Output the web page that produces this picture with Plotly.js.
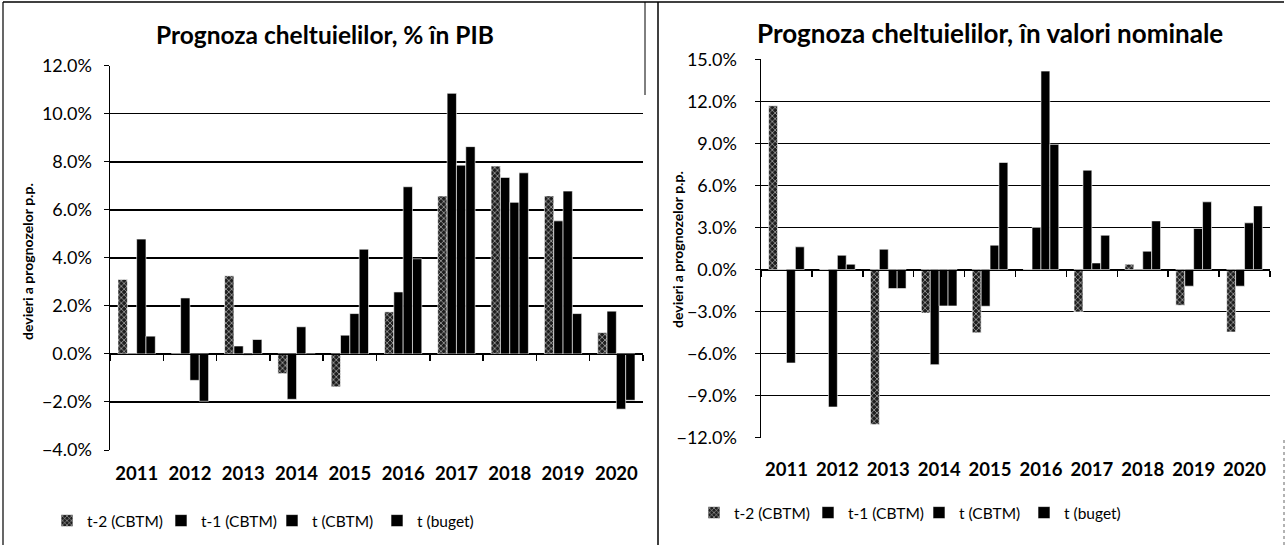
<!DOCTYPE html>
<html>
<head>
<meta charset="utf-8">
<script src="https://cdn.plot.ly/plotly-3.0.1.min.js"></script>
<style>html,body{margin:0;padding:0;background:#fff;}#chart{width:1286px;height:545px;}</style>
</head>
<body>
<div id="chart"></div>
<script>
// ---- Data ----
const years = ['2011','2012','2013','2014','2015','2016','2017','2018','2019','2020'];
const seriesNames = ['t-2 (CBTM)', 't-1 (CBTM)', 't (CBTM)', 't (buget)'];

// Prognoza cheltuielilor, % in PIB
const pib_t2 = [3.10, 0.00, 3.25, -0.82, -1.37, 1.75, 6.57, 7.82, 6.58, 0.89];
const pib_t1 = [0.00, 2.33, 0.33, -1.89, 0.78, 2.58, 10.85, 7.35, 5.54, 1.78];
const pib_t  = [4.78, -1.10, -0.05, 1.13, 1.68, 6.96, 7.86, 6.31, 6.78, -2.30];
const pib_tb = [0.74, -1.97, 0.60, -0.02, 4.36, 3.96, 8.63, 7.54, 1.68, -1.93];

// Prognoza cheltuielilor, in valori nominale
const nom_t2 = [11.69, 0.00, -11.05, -3.10, -4.52, 0.00, -3.03, 0.38, -2.55, -4.46];
const nom_t1 = [0.00, -9.81, 1.45, -6.79, -2.62, 3.00, 7.09, -0.05, -1.19, -1.19];
const nom_t  = [-6.67, 1.02, -1.36, -2.60, 1.74, 14.16, 0.47, 1.31, 2.93, 3.33];
const nom_tb = [1.62, 0.38, -1.36, -2.60, 7.64, 8.93, 2.45, 3.47, 4.83, 4.54];

// ---- Layout helpers ----
const W = 1286, H = 545;
const px = v => v / W;
const py = v => (H - v) / H;
const FONT = 'Lato, "Open Sans", "DejaVu Sans", sans-serif';

const leftDomX = [px(110), px(643)], leftDomY = [py(450), py(65.7)];
const rightDomX = [px(761), px(1270)], rightDomY = [py(437.7), py(59.3)];
const leftRange = [-4, 12], rightRange = [-12, 15];
const zeroPos = (dom, rng) => dom[0] + (0 - rng[0]) / (rng[1] - rng[0]) * (dom[1] - dom[0]);

function mk(name, x, y, xa, ya, legend, idx) {
  const t = {
    type: 'bar', name: name, x: x, y: y, xaxis: xa, yaxis: ya, legend: legend,
    marker: {color: '#000', line: {color: '#fff', width: 0.6}},
    hoverinfo: 'skip'
  };
  if (idx === 0) {
    t.marker.color = '#1e1e1e';
    t.marker.pattern = {shape: 'x', bgcolor: '#1e1e1e', fgcolor: '#e8e8e8', size: 4, solidity: 0.25};
  }
  return t;
}

const leftSets = [pib_t2, pib_t1, pib_t, pib_tb];
const rightSets = [nom_t2, nom_t1, nom_t, nom_tb];
const leftLegendIds = ['legend', 'legend2', 'legend3', 'legend4'];
const rightLegendIds = ['legend5', 'legend6', 'legend7', 'legend8'];
const data = [];
leftSets.forEach((s, i) => data.push(mk(seriesNames[i], years, s, 'x', 'y', leftLegendIds[i], i)));
rightSets.forEach((s, i) => data.push(mk(seriesNames[i], years, s, 'x2', 'y2', rightLegendIds[i], i)));
// helper traces (no visible marks) so that the category axes along the 0% line are drawn
['x3', 'x4'].forEach((xa, k) => data.push({
  type: 'scatter', mode: 'lines', x: years, y: years.map(() => null),
  xaxis: xa, yaxis: k === 0 ? 'y3' : 'y4', showlegend: false, hoverinfo: 'skip',
  line: {width: 0}
}));

const yCommon = {
  showgrid: true, gridcolor: '#000', gridwidth: 1.5,
  zeroline: false, showline: true, linecolor: '#000', linewidth: 1.5,
  ticks: 'outside', ticklen: 5, tickcolor: '#000',
  ticksuffix: '%', tickformat: '.1f',
  tickfont: {family: FONT, size: 18, color: '#000'},
  ticklabelstandoff: 8,
  fixedrange: true
};
const xLabelAxis = {
  type: 'category', categoryorder: 'array', categoryarray: years,
  showgrid: false, zeroline: false, showline: false, ticks: '',
  tickfont: {family: FONT, size: 18.5, color: '#000', weight: 'bold'},
  fixedrange: true
};
// Category axis drawn along the 0% line (ticks on category boundaries)
const xZeroAxis = {
  type: 'category', categoryorder: 'array', categoryarray: years,
  showgrid: false, zeroline: false, showline: true, linecolor: '#000', linewidth: 1.5,
  ticks: 'outside', tickson: 'boundaries', ticklen: 6, tickcolor: '#000', tickwidth: 1.5,
  showticklabels: false, range: [-0.5, 9.5], fixedrange: true, side: 'bottom'
};
const yHidden = {visible: false, showgrid: false, zeroline: false, range: [0, 1], fixedrange: true};

const lz = zeroPos(leftDomY, leftRange), rz = zeroPos(rightDomY, rightRange);
const ytitleFont = {family: FONT, size: 14, weight: 'bold', color: '#000'};

// one-entry legends placed where the reference shows each entry (text start x, centre y)
const legendTextX = {left: [88, 202, 313, 418], right: [735, 849, 960, 1065]};
function legendBox(textX, cy) {
  return {orientation: 'h', x: px(textX - 41), xanchor: 'left', y: py(cy), yanchor: 'middle',
    font: {family: FONT, size: 15.5, color: '#000'}, bgcolor: 'rgba(0,0,0,0)',
    itemclick: false, itemdoubleclick: false};
}

const layout = {
  width: W, height: H,
  margin: {l: 0, r: 0, t: 0, b: 0},
  paper_bgcolor: '#fff', plot_bgcolor: 'rgba(0,0,0,0)',
  barmode: 'group', bargap: 0.3, bargroupgap: 0,
  showlegend: true,
  font: {family: FONT, color: '#000'},
  xaxis: Object.assign({}, xLabelAxis, {domain: leftDomX, anchor: 'y', range: [-0.5, 9.5], ticklabelstandoff: 10}),
  yaxis: Object.assign({}, yCommon, {domain: leftDomY, anchor: 'x', range: leftRange, dtick: 2}),
  xaxis2: Object.assign({}, xLabelAxis, {domain: rightDomX, anchor: 'y2', range: [-0.5, 9.5], ticklabelstandoff: 19}),
  yaxis2: Object.assign({}, yCommon, {domain: rightDomY, anchor: 'x2', range: rightRange, dtick: 3,
    ticklabelstandoff: 14}),
  xaxis3: Object.assign({}, xZeroAxis, {domain: leftDomX, anchor: 'y3'}),
  yaxis3: Object.assign({}, yHidden, {domain: [lz, lz + 0.004], anchor: 'x3'}),
  xaxis4: Object.assign({}, xZeroAxis, {domain: rightDomX, anchor: 'y4'}),
  yaxis4: Object.assign({}, yHidden, {domain: [rz, rz + 0.004], anchor: 'x4'}),
  annotations: [
    {text: 'Prognoza cheltuielilor, % în PIB', xref: 'paper', yref: 'paper', x: px(325), y: py(34),
     xanchor: 'center', yanchor: 'middle', showarrow: false, font: {family: FONT, size: 24.5, weight: 'bold', color: '#000'}},
    {text: 'Prognoza cheltuielilor, în valori nominale', xref: 'paper', yref: 'paper', x: px(990), y: py(33),
     xanchor: 'center', yanchor: 'middle', showarrow: false, font: {family: FONT, size: 26, weight: 'bold', color: '#000'}},
    {text: 'devieri a prognozelor p.p.', xref: 'paper', yref: 'paper', x: px(27), y: py(262), textangle: -90,
     xanchor: 'center', yanchor: 'middle', showarrow: false, font: ytitleFont},
    {text: 'devieri a prognozelor p.p.', xref: 'paper', yref: 'paper', x: px(677), y: py(250), textangle: -90,
     xanchor: 'center', yanchor: 'middle', showarrow: false, font: ytitleFont}
  ],
  shapes: [
    {type: 'line', xref: 'paper', yref: 'paper', x0: px(3), x1: px(1284), y0: py(2), y1: py(2), line: {color: '#000', width: 1.5}},
    {type: 'line', xref: 'paper', yref: 'paper', x0: px(3), x1: px(3), y0: py(2), y1: 0, line: {color: '#000', width: 1.2}},
    {type: 'line', xref: 'paper', yref: 'paper', x0: px(645), x1: px(645), y0: py(2), y1: py(95), line: {color: '#000', width: 1}},
    {type: 'line', xref: 'paper', yref: 'paper', x0: px(658), x1: px(658), y0: py(2), y1: 0, line: {color: '#000', width: 1.5}},
    {type: 'line', xref: 'paper', yref: 'paper', x0: px(1284), x1: px(1284), y0: py(440), y1: 0, line: {color: '#666', width: 1, dash: 'dot'}}
  ]
};
leftLegendIds.forEach((id, i) => { layout[id] = legendBox(legendTextX.left[i], 521); });
rightLegendIds.forEach((id, i) => { layout[id] = legendBox(legendTextX.right[i], 513); });

Plotly.newPlot('chart', data, layout, {staticPlot: true, displayModeBar: false});
</script>
</body>
</html>
